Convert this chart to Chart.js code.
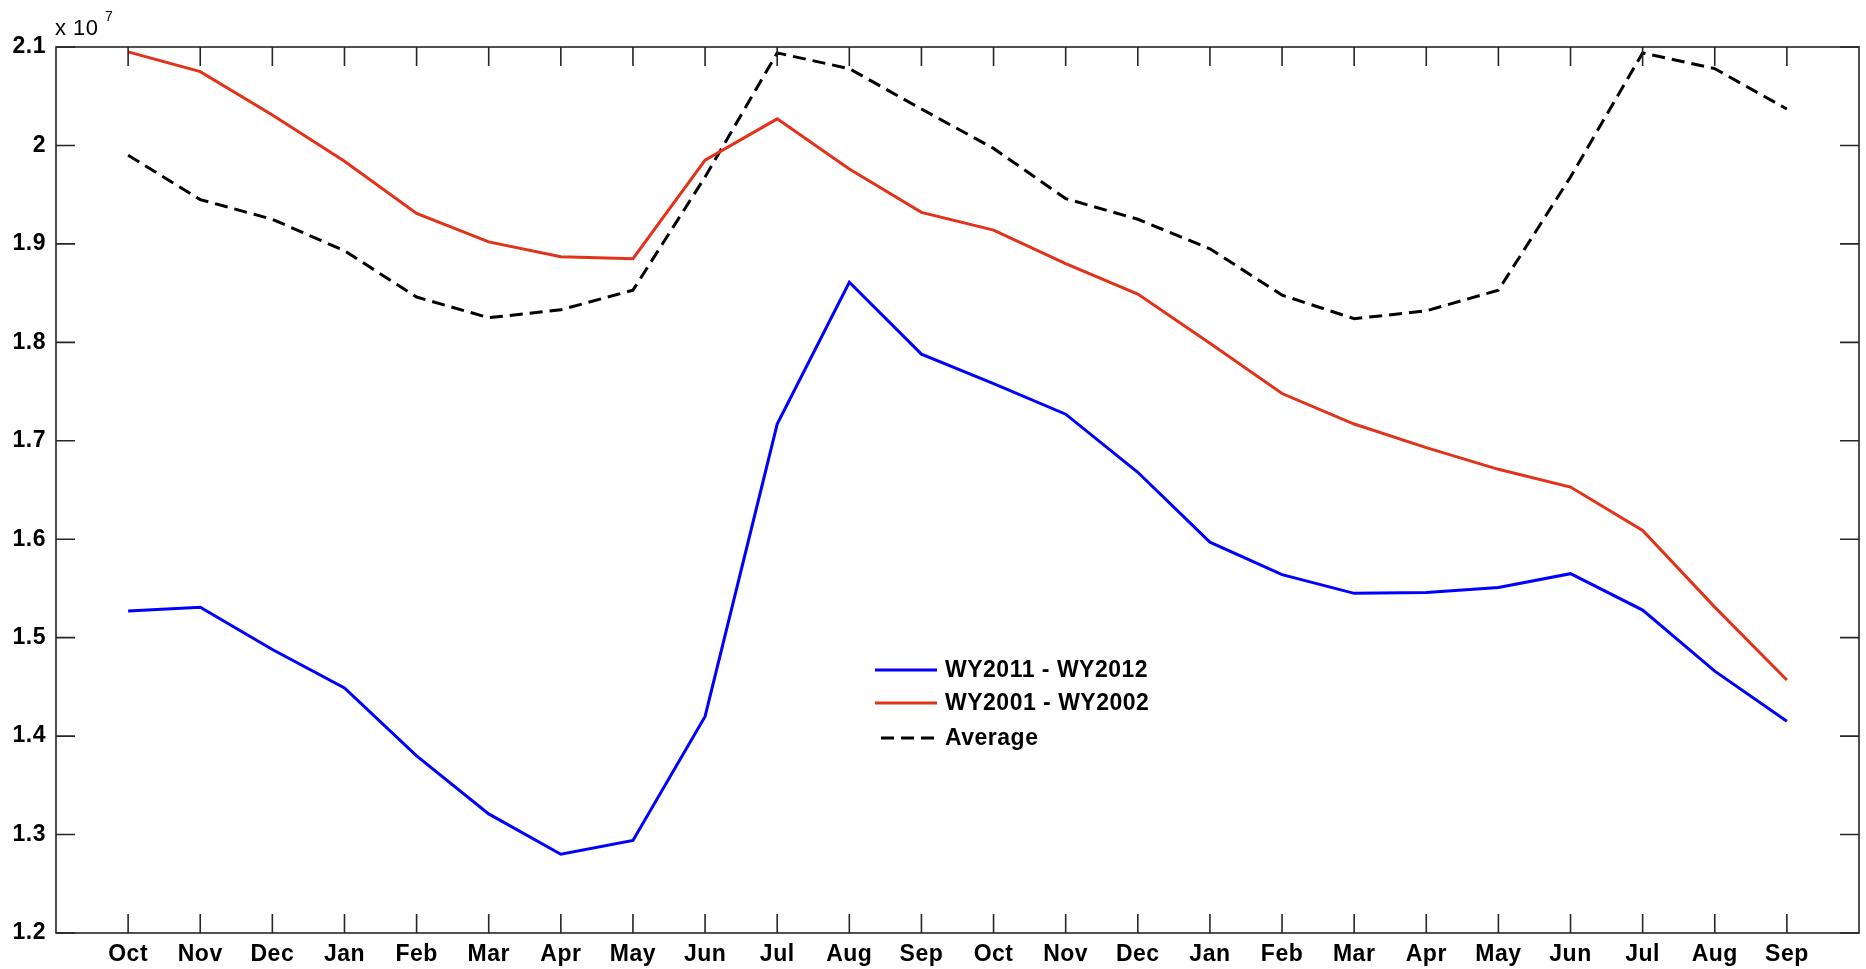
<!DOCTYPE html>
<html>
<head>
<meta charset="utf-8">
<script src="https://cdn.jsdelivr.net/npm/chart.js@4.4.0/dist/chart.umd.min.js"></script>
<style>
  html, body { margin: 0; padding: 0; background: #ffffff; }
  #wrap { width: 1866px; height: 969px; }
</style>
</head>
<body>
<div id="wrap"><canvas id="storageChart" width="1866" height="969"></canvas></div>
<script>
// ===== DATA (values in units of 10^7) =====
const months = ['Oct','Nov','Dec','Jan','Feb','Mar','Apr','May','Jun','Jul','Aug','Sep',
                'Oct','Nov','Dec','Jan','Feb','Mar','Apr','May','Jun','Jul','Aug','Sep'];
const wy2011 = [1.527, 1.531, 1.488, 1.449, 1.380, 1.321, 1.280, 1.294, 1.420, 1.717, 1.861, 1.788,
                1.758, 1.727, 1.668, 1.597, 1.564, 1.545, 1.546, 1.551, 1.565, 1.528, 1.466, 1.415];
const wy2001 = [2.095, 2.075, 2.031, 1.984, 1.931, 1.902, 1.887, 1.885, 1.985, 2.027, 1.976, 1.932,
                1.914, 1.880, 1.849, 1.799, 1.748, 1.717, 1.693, 1.671, 1.653, 1.609, 1.531, 1.457];
const average = [1.990, 1.945, 1.925, 1.893, 1.846, 1.825, 1.833, 1.853, 1.968, 2.094, 2.078, 2.037,
                 1.997, 1.946, 1.925, 1.895, 1.848, 1.824, 1.832, 1.853, 1.968, 2.094, 2.078, 2.037];
const yTicks = [1.2, 1.3, 1.4, 1.5, 1.6, 1.7, 1.8, 1.9, 2.0, 2.1];
const seriesLabels = ['WY2011 - WY2012', 'WY2001 - WY2002', 'Average'];

const FONT = '"Liberation Sans", Arial, Helvetica, sans-serif';
const toPoints = arr => arr.map((v, i) => ({ x: i, y: v }));

// ===== BOX, INWARD TICKS, EXPONENT & LEGEND =====
const matlabFrame = {
  id: 'matlabFrame',
  beforeDraw(chart) {
    chart.ctx.letterSpacing = '0.5px';
  },
  afterDatasetsDraw(chart) {
    const { ctx, chartArea: a, scales } = chart;
    const tl = 19;
    ctx.save();
    ctx.strokeStyle = '#262626';
    ctx.lineWidth = 1.6;
    ctx.strokeRect(a.left, a.top, a.right - a.left, a.bottom - a.top);
    ctx.beginPath();
    months.forEach((m, i) => {
      const px = scales.x.getPixelForValue(i);
      ctx.moveTo(px, a.bottom); ctx.lineTo(px, a.bottom - tl);
      ctx.moveTo(px, a.top); ctx.lineTo(px, a.top + tl);
    });
    yTicks.forEach(v => {
      const py = scales.y.getPixelForValue(v);
      ctx.moveTo(a.left, py); ctx.lineTo(a.left + tl, py);
      ctx.moveTo(a.right, py); ctx.lineTo(a.right - tl, py);
    });
    ctx.stroke();

    // exponent label
    ctx.fillStyle = '#000000';
    ctx.textBaseline = 'middle';
    ctx.textAlign = 'left';
    ctx.font = '22px ' + FONT;
    ctx.fillText('x 10', a.left - 1, a.top - 18);
    ctx.font = '14px ' + FONT;
    ctx.fillText('7', a.left + 49, a.top - 30);

    // legend
    const lx = 875, lw = 62, rows = [670, 703, 738];
    chart.data.datasets.forEach((ds, i) => {
      ctx.beginPath();
      ctx.strokeStyle = ds.borderColor;
      ctx.lineWidth = ds.borderWidth;
      ctx.setLineDash(ds.borderDash || []);
      ctx.moveTo(lx + (ds.borderDash ? 6 : 0), rows[i]);
      ctx.lineTo(lx + lw, rows[i]);
      ctx.stroke();
      ctx.setLineDash([]);
      ctx.fillStyle = '#000000';
      ctx.font = 'bold 23px ' + FONT;
      ctx.fillText(ds.label, lx + lw + 8, rows[i] + 1);
    });
    ctx.restore();
  }
};

new Chart(document.getElementById('storageChart'), {
  type: 'line',
  data: {
    datasets: [
      { label: seriesLabels[0], data: toPoints(wy2011), borderColor: '#0000ff', borderWidth: 3 },
      { label: seriesLabels[1], data: toPoints(wy2001), borderColor: '#e2321a', borderWidth: 3 },
      { label: seriesLabels[2], data: toPoints(average), borderColor: '#000000', borderWidth: 3, borderDash: [13, 7] }
    ]
  },
  options: {
    responsive: false,
    devicePixelRatio: 1,
    animation: false,
    elements: { point: { radius: 0 }, line: { tension: 0 } },
    layout: { padding: { top: 47, right: 7, left: 0, bottom: 0 } },
    plugins: { legend: { display: false }, tooltip: { enabled: false } },
    scales: {
      x: {
        type: 'linear',
        min: -1, max: 24,
        afterFit: s => { s.height = 36; },
        afterBuildTicks: s => { s.ticks = months.map((m, i) => ({ value: i })); },
        ticks: {
          autoSkip: false, maxRotation: 0, padding: 8,
          color: '#000000', font: { family: FONT, size: 23, weight: 'bold' },
          callback: v => months[v] || ''
        },
        grid: { display: false, drawTicks: false },
        border: { display: false }
      },
      y: {
        min: 1.2, max: 2.1,
        afterFit: s => { s.width = 56; },
        afterBuildTicks: s => { s.ticks = yTicks.map(v => ({ value: v })); },
        ticks: {
          padding: 10,
          color: '#000000', font: { family: FONT, size: 23, weight: 'bold' },
          callback: v => (Math.abs(v - 2) < 1e-9 ? '2' : v.toFixed(1))
        },
        grid: { display: false, drawTicks: false },
        border: { display: false }
      }
    }
  },
  plugins: [matlabFrame]
});
</script>
</body>
</html>
